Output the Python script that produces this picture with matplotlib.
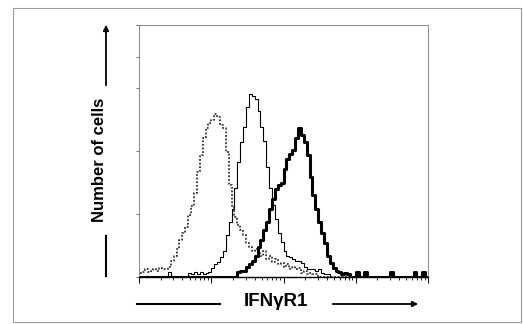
import numpy as np
import matplotlib
matplotlib.use("Agg")
import matplotlib.pyplot as plt
from matplotlib.patches import Rectangle

# log10 fluorescence channel centres (100 bins over 4 decades)
bin_width_log = 0.04
n_bins = 100

isotype_counts = [3, 4, 6, 4, 5, 6, 5, 7, 6, 6, 8, 13, 17, 22, 29, 35, 40, 49, 56, 67,
                  83, 97, 110, 118, 122, 125, 129, 127, 121, 118, 99, 73, 56, 48, 41, 37, 33, 27, 24, 21,
                  22, 19, 17, 21, 14, 17, 12, 14, 10, 11, 8, 10, 6, 8, 6, 7, 3, 5, 2, 3,
                  2, 2, 0, 0, 0, 0, 0, 0, 0, 0, 0, 0, 0, 0, 0, 0, 0, 0, 0, 0,
                  0, 0, 0, 0, 0, 0, 0, 0, 0, 0, 0, 0, 0, 0, 0, 0, 0, 0, 0, 0]

thin_counts = [0, 0, 0, 0, 0, 0, 0, 0, 0, 0, 4, 0, 0, 0, 0, 0, 0, 3, 2, 4,
               2, 4, 2, 3, 4, 7, 10, 12, 16, 21, 33, 44, 54, 71, 91, 107, 119, 135, 145, 144,
               141, 132, 119, 108, 87, 71, 57, 46, 35, 28, 21, 17, 16, 14, 13, 13, 11, 8, 6, 6,
               6, 5, 6, 3, 2, 2, 0, 0, 0, 0, 0, 0, 0, 0, 0, 0, 0, 0, 0, 0,
               0, 0, 0, 0, 0, 0, 0, 0, 0, 0, 0, 0, 0, 0, 0, 0, 0, 0, 0, 0]

thick_counts = [0, 0, 0, 0, 0, 0, 0, 0, 0, 0, 0, 0, 0, 0, 0, 0, 0, 0, 0, 0,
                0, 0, 0, 0, 0, 0, 0, 0, 0, 0, 0, 0, 0, 0, 4, 5, 5, 8, 10, 13,
                17, 24, 29, 37, 44, 54, 62, 70, 73, 75, 86, 94, 98, 101, 110, 118, 113, 107, 97, 79,
                65, 54, 44, 35, 27, 17, 11, 7, 5, 4, 2, 3, 2, 0, 0, 4, 0, 0, 4, 0,
                0, 0, 0, 0, 0, 0, 0, 4, 0, 0, 0, 0, 0, 0, 0, 4, 0, 0, 4, 0]

x_label = "IFNγR1"
y_label = "Number of cells"

log_centres = (np.arange(n_bins) + 0.5) * bin_width_log
fluor = 10 ** log_centres

fig = plt.figure(figsize=(5.23, 3.24), dpi=100)
fig.patch.set_facecolor("white")
fig.patches.append(Rectangle((13 / 523, 2 / 324), 508 / 523, 314 / 324, transform=fig.transFigure,
                             fill=False, edgecolor="#9a9a9a", linewidth=0.8))

ax = fig.add_axes([139 / 523, 47 / 324, 289 / 523, 252 / 324])
ax.set_xscale("log")
ax.set_xlim(1, 1e4)
ax.set_ylim(0, 200)

ax.step(fluor, isotype_counts, where="mid", color="#333333", linewidth=1.3,
        linestyle=(0, (1, 1)))
ax.step(fluor, thin_counts, where="mid", color="black", linewidth=0.8)
ax.step(fluor, thick_counts, where="mid", color="black", linewidth=2.2)

for side in ["top", "right", "left"]:
    ax.spines[side].set_color("#8a8a8a")
    ax.spines[side].set_linewidth(0.7)
ax.spines["bottom"].set_color("black")
ax.spines["bottom"].set_linewidth(1.0)

ax.set_yticks([0, 50, 100, 150, 200])
ax.set_yticks([175], minor=True)
ax.set_yticklabels([])
ax.tick_params(axis="y", which="both", direction="out", length=2, width=0.6, color="#555555")
ax.tick_params(axis="x", which="major", direction="out", length=4, width=0.7)
ax.tick_params(axis="x", which="minor", direction="out", length=2.5, width=0.6)
ax.xaxis.set_major_locator(matplotlib.ticker.LogLocator(base=10, numticks=10))
ax.xaxis.set_minor_locator(matplotlib.ticker.LogLocator(base=10, subs=np.arange(2, 10), numticks=20))
ax.xaxis.set_major_formatter(matplotlib.ticker.NullFormatter())
ax.xaxis.set_minor_formatter(matplotlib.ticker.NullFormatter())

fig.text(100 / 523, 1 - 160 / 324, y_label, rotation=90, ha="center", va="center",
         family="Liberation Sans", weight="bold", size=12)
fig.text(276 / 523, 1 - 301 / 324, x_label, ha="center", va="center",
         family="Liberation Sans", weight="bold", size=13.5)

# decorative lines and arrows
fig.add_artist(plt.Line2D([106 / 523, 106 / 523], [1 - 276 / 324, 1 - 236 / 324],
                          transform=fig.transFigure, color="black", linewidth=1.5))
fig.add_artist(matplotlib.patches.FancyArrowPatch((106 / 523, 1 - 88 / 324), (106 / 523, 1 - 22 / 324),
                                                  transform=fig.transFigure, arrowstyle="-|>",
                                                  mutation_scale=8, color="black", linewidth=1.3))
fig.add_artist(plt.Line2D([137 / 523, 220 / 523], [1 - 304 / 324, 1 - 304 / 324],
                          transform=fig.transFigure, color="black", linewidth=1.5))
fig.add_artist(matplotlib.patches.FancyArrowPatch((330 / 523, 1 - 304 / 324), (421 / 523, 1 - 304 / 324),
                                                  transform=fig.transFigure, arrowstyle="-|>",
                                                  mutation_scale=8, color="black", linewidth=1.3))

fig.savefig("out.png", dpi=100)
